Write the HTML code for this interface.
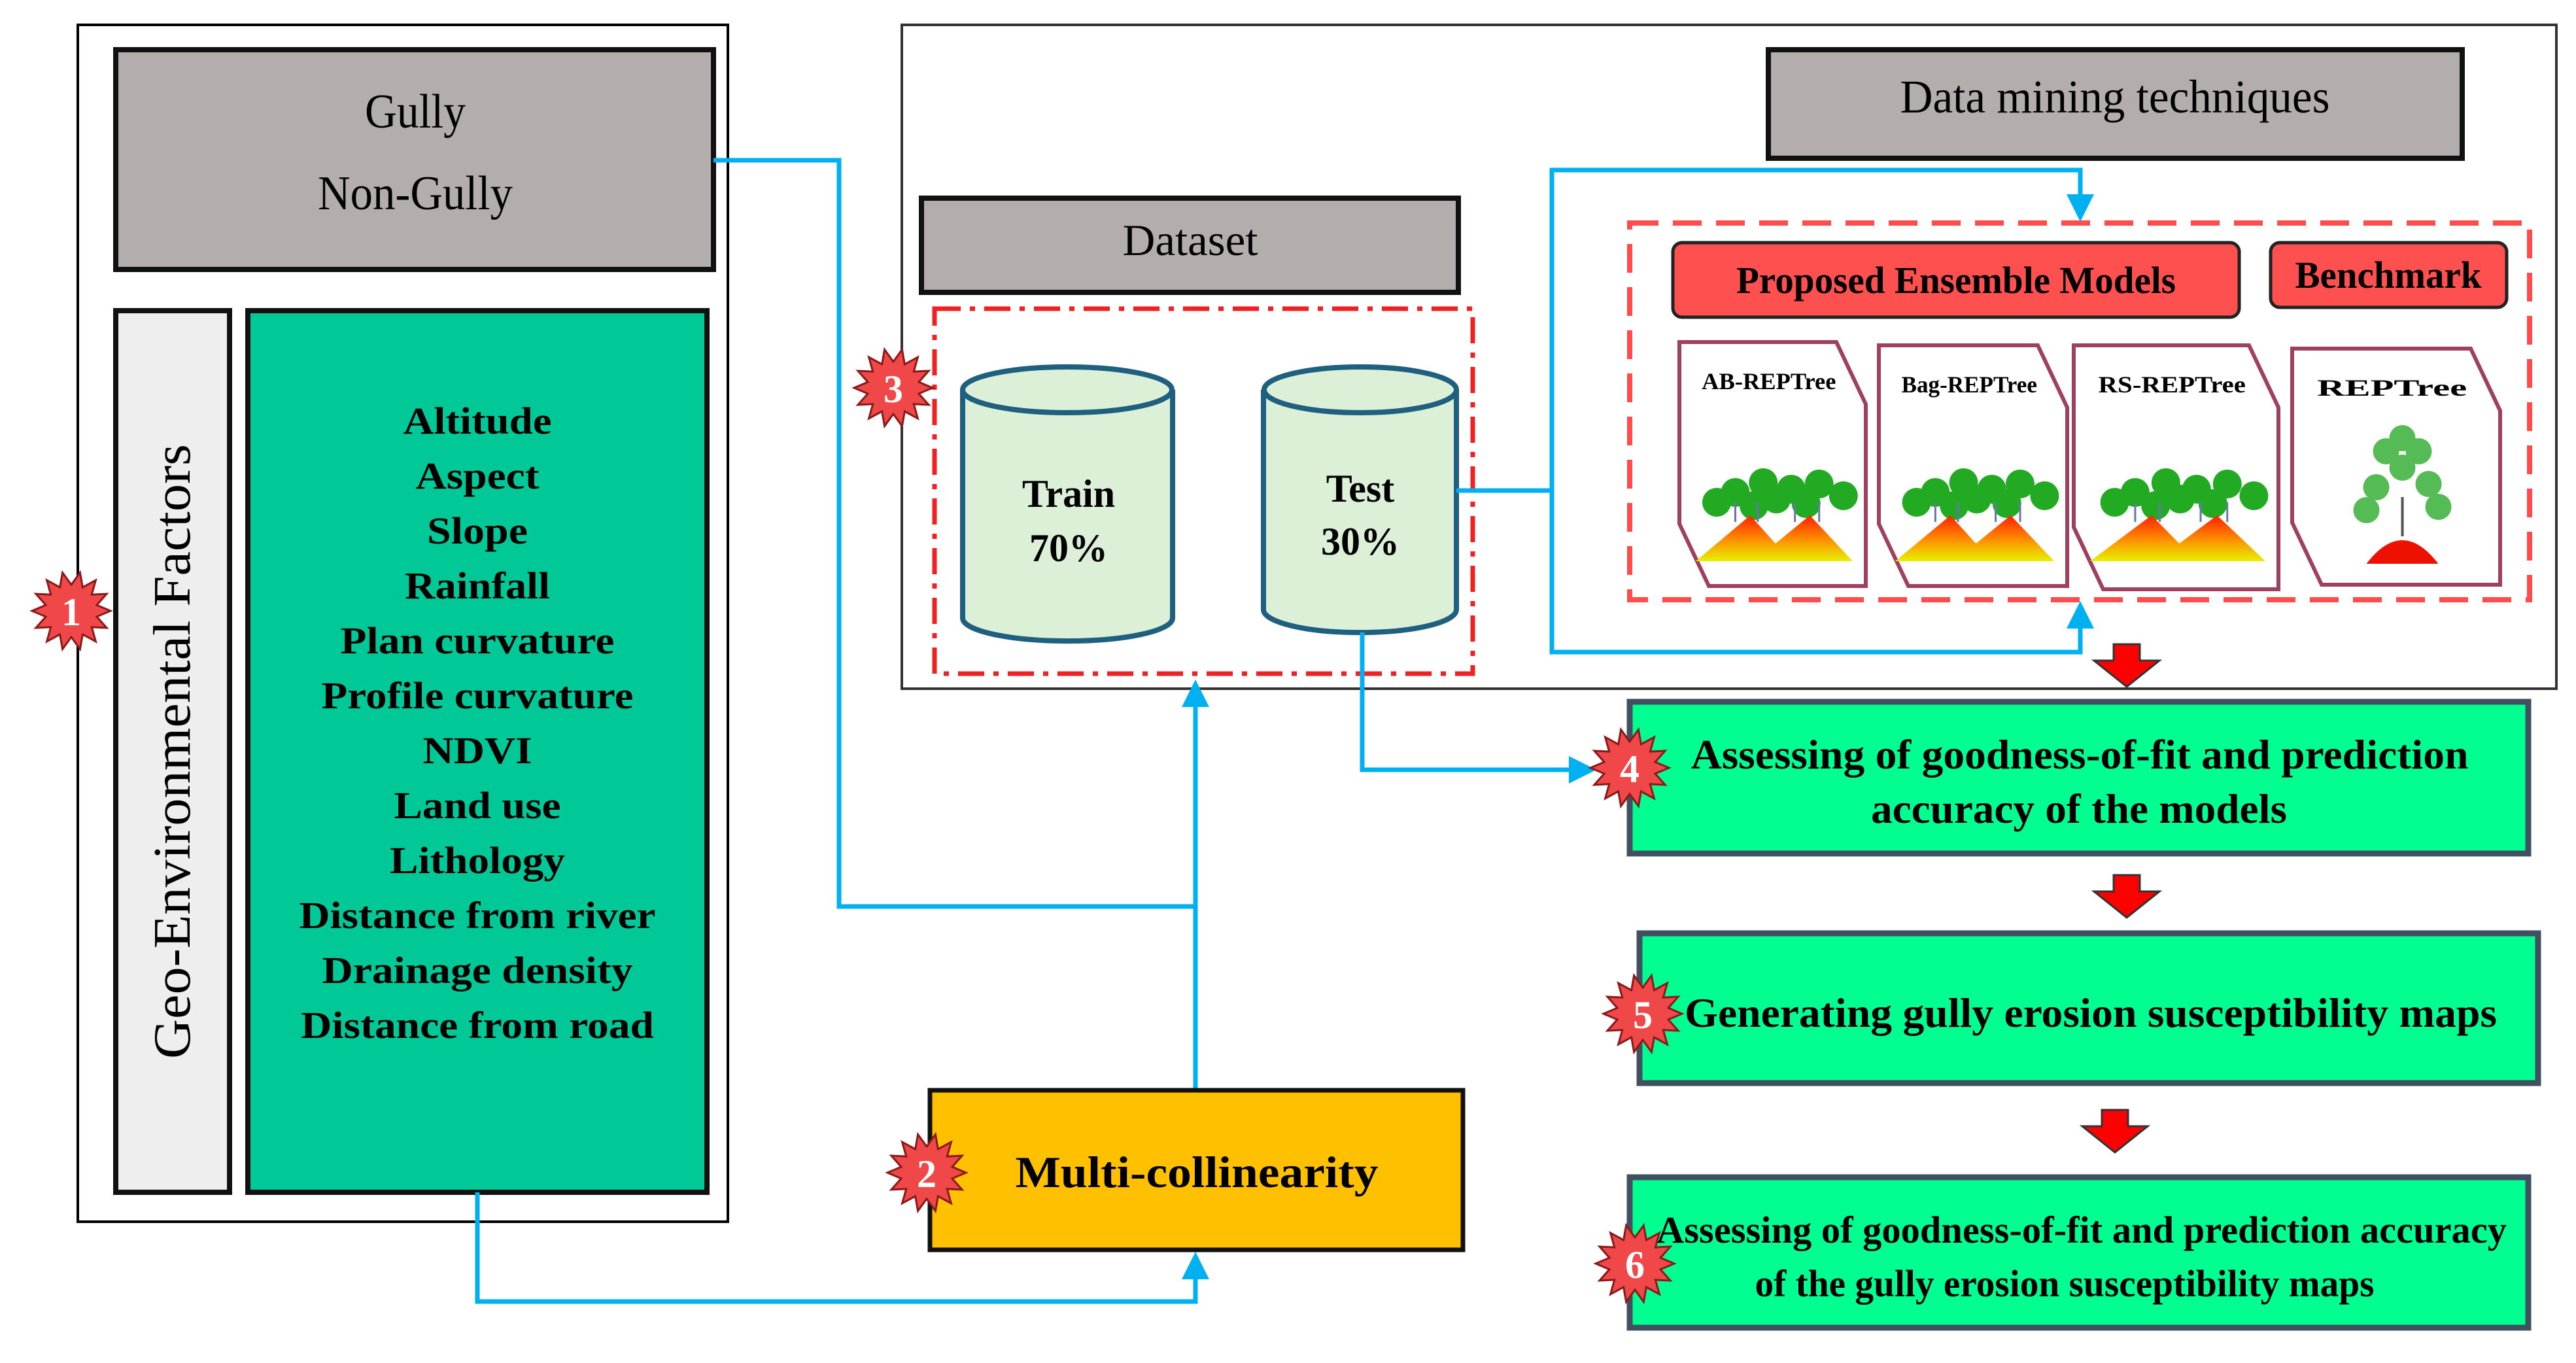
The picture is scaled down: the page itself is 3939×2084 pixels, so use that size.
<!DOCTYPE html>
<html><head><meta charset="utf-8"><style>
html,body{margin:0;padding:0;background:#fff;}
svg{display:block;}
text{font-family:"Liberation Serif",serif;}
</style></head><body>
<svg id="s" width="3939" height="2084" viewBox="0 0 3939 2084" xmlns="http://www.w3.org/2000/svg">
<defs>
<marker id="ab" markerWidth="6" markerHeight="6" refX="3" refY="3" orient="auto" markerUnits="strokeWidth"><path d="M0,0 L6,3 L0,6 z" fill="#00b0f0"/></marker>
<linearGradient id="mt" x1="0" y1="0" x2="0" y2="1"><stop offset="0" stop-color="#ff2000"/><stop offset="0.5" stop-color="#ff8800"/><stop offset="1" stop-color="#e8f000"/></linearGradient>
</defs>
<rect x="119" y="38" width="994" height="1830" fill="#fff" stroke="#000" stroke-width="4"/>
<rect x="177" y="76" width="914" height="336" fill="#b3aeac" stroke="#111" stroke-width="8"/>
<text x="635" y="195" font-size="74" text-anchor="middle" textLength="154" lengthAdjust="spacingAndGlyphs">Gully</text>
<text x="635" y="320" font-size="74" text-anchor="middle" textLength="298" lengthAdjust="spacingAndGlyphs">Non-Gully</text>
<rect x="177" y="475" width="174" height="1348" fill="#eeeeee" stroke="#111" stroke-width="8"/>
<text transform="translate(290,1149) rotate(-90)" font-size="80" text-anchor="middle" textLength="940" lengthAdjust="spacingAndGlyphs">Geo-Environmental Factors</text>
<rect x="379" y="475" width="702" height="1348" fill="#00c896" stroke="#111" stroke-width="8"/>
<g font-size="58" font-weight="bold" text-anchor="middle">
<text x="730" y="663" textLength="227" lengthAdjust="spacingAndGlyphs">Altitude</text>
<text x="730" y="747" textLength="189" lengthAdjust="spacingAndGlyphs">Aspect</text>
<text x="730" y="831" textLength="154" lengthAdjust="spacingAndGlyphs">Slope</text>
<text x="730" y="915" textLength="222" lengthAdjust="spacingAndGlyphs">Rainfall</text>
<text x="730" y="999" textLength="419" lengthAdjust="spacingAndGlyphs">Plan curvature</text>
<text x="730" y="1083" textLength="477" lengthAdjust="spacingAndGlyphs">Profile curvature</text>
<text x="730" y="1167" textLength="167" lengthAdjust="spacingAndGlyphs">NDVI</text>
<text x="730" y="1251" textLength="255" lengthAdjust="spacingAndGlyphs">Land use</text>
<text x="730" y="1335" textLength="268" lengthAdjust="spacingAndGlyphs">Lithology</text>
<text x="730" y="1419" textLength="545" lengthAdjust="spacingAndGlyphs">Distance from river</text>
<text x="730" y="1503" textLength="475" lengthAdjust="spacingAndGlyphs">Drainage density</text>
<text x="730" y="1587" textLength="540" lengthAdjust="spacingAndGlyphs">Distance from road</text>
</g>
<rect x="1379" y="38" width="2530" height="1015" fill="#fff" stroke="#333" stroke-width="4"/>
<rect x="2704" y="76" width="1061" height="166" fill="#b3aeac" stroke="#111" stroke-width="8"/>
<text x="3234" y="172" font-size="72" text-anchor="middle" textLength="657" lengthAdjust="spacingAndGlyphs">Data mining techniques</text>
<rect x="1409" y="303" width="821" height="144" fill="#b3aeac" stroke="#111" stroke-width="8"/>
<text x="1820" y="390" font-size="68" text-anchor="middle" textLength="207" lengthAdjust="spacingAndGlyphs">Dataset</text>
<rect x="1429" y="472" width="823" height="558" fill="none" stroke="#ee2222" stroke-width="7" stroke-dasharray="40,14,8,14"/>
<g stroke="#1f5f7f" stroke-width="8" fill="#dcf0d8">
<path d="M1472,596 L1472,945 A160,35 0 0 0 1793,945 L1793,596"/>
<ellipse cx="1632" cy="596" rx="160" ry="35"/>
<path d="M1932,596 L1932,932 A147,35 0 0 0 2227,932 L2227,596"/>
<ellipse cx="2080" cy="596" rx="147" ry="35"/>
</g>
<g font-size="60" font-weight="bold" text-anchor="middle">
<text x="1634" y="775">Train</text><text x="1634" y="858">70%</text>
<text x="2080" y="767">Test</text><text x="2080" y="848">30%</text>
</g>
<rect x="2492" y="341" width="1376" height="576" fill="none" stroke="#ff4d4d" stroke-width="8" stroke-dasharray="44,22"/>
<rect x="2558" y="371" width="866" height="114" rx="14" fill="#ff5050" stroke="#222" stroke-width="5"/>
<text x="2991" y="448" font-size="58" font-weight="bold" text-anchor="middle" textLength="672" lengthAdjust="spacingAndGlyphs">Proposed Ensemble Models</text>
<rect x="3472" y="371" width="361" height="99" rx="14" fill="#ff5050" stroke="#222" stroke-width="5"/>
<text x="3652" y="440" font-size="58" font-weight="bold" text-anchor="middle" textLength="285" lengthAdjust="spacingAndGlyphs">Benchmark</text>
<g id="cards"></g>
<g stroke="#00b0f0" stroke-width="7" fill="none">
<polyline points="1091,245 1283,245 1283,1386 1828,1386"/>
<line x1="1828" y1="1667" x2="1828" y2="1060" marker-end="url(#ab)"/>
<polyline points="730,1823 730,1990 1828,1990 1828,1935" marker-end="url(#ab)"/>
<polyline points="2227,750 2373,750 2373,260 3181,260 3181,318" marker-end="url(#ab)"/>
<polyline points="2373,750 2373,997 3181,997 3181,940" marker-end="url(#ab)"/>
<polyline points="2083,967 2083,1177 2420,1177" marker-end="url(#ab)"/>
</g>
<rect x="1422" y="1667" width="815" height="244" fill="#ffc000" stroke="#111" stroke-width="7"/>
<text x="1830" y="1815" font-size="68" font-weight="bold" text-anchor="middle" textLength="555" lengthAdjust="spacingAndGlyphs">Multi-collinearity</text>
<g fill="#00ff90" stroke="#405060" stroke-width="9">
<rect x="2492" y="1073" width="1374" height="232"/>
<rect x="2507" y="1427" width="1374" height="229"/>
<rect x="2492" y="1800" width="1374" height="230"/>
</g>
<g font-size="64" font-weight="bold" text-anchor="middle">
<text x="3180" y="1175" textLength="1189" lengthAdjust="spacingAndGlyphs">Assessing of goodness-of-fit and prediction</text>
<text x="3179" y="1258" textLength="636" lengthAdjust="spacingAndGlyphs">accuracy of the models</text>
<text x="3197" y="1570" textLength="1242" lengthAdjust="spacingAndGlyphs">Generating gully erosion susceptibility maps</text>
<text x="3183" y="1900" font-size="58" textLength="1300" lengthAdjust="spacingAndGlyphs">Assessing of goodness-of-fit and prediction accuracy</text>
<text x="3157" y="1982" font-size="58" textLength="947" lengthAdjust="spacingAndGlyphs">of the gully erosion susceptibility maps</text>
</g>
<g fill="#ff0000" stroke="#333" stroke-width="3">
<polygon points="3232,985 3272,985 3272,1010 3302,1010 3252,1050 3202,1010 3232,1010"/>
<polygon points="3232,1338 3272,1338 3272,1363 3302,1363 3252,1403 3202,1363 3232,1363"/>
<polygon points="3214,1697 3254,1697 3254,1722 3284,1722 3234,1762 3184,1722 3214,1722"/>
</g>
<g id="stars"></g>
</svg>
<script>
var NS="http://www.w3.org/2000/svg";
function el(t,a,p){var e=document.createElementNS(NS,t);for(var k in a)e.setAttribute(k,a[k]);p.appendChild(e);return e;}
var S=document.getElementById("stars");
[[109,934,"1"],[1417,1793,"2"],[1366,593,"3"],[2492,1174,"4"],[2512,1550,"5"],[2500,1932,"6"]].forEach(function(s){
 var pts=[],n=14;for(var i=0;i<2*n;i++){var r=i%2?40:60,a=Math.PI*i/n;pts.push((s[0]+r*Math.cos(a)).toFixed(1)+","+(s[1]+r*Math.sin(a)).toFixed(1));}
 el("polygon",{points:pts.join(" "),fill:"#f04848",stroke:"#8a1a1a","stroke-width":3},S);
 var t=el("text",{x:s[0],y:s[1]+22,"font-size":60,"font-weight":"bold","text-anchor":"middle",fill:"#fff"},S);t.textContent=s[2];
});
var C=document.getElementById("cards");
[[2568,523,2853,896,"AB-REPTree",1],[2873,528,3161,896,"Bag-REPTree",1],[3171,528,3484,901,"RS-REPTree",1],[3505,533,3823,894,"REPTree",0]].forEach(function(c){
 var x1=c[0],y1=c[1],x2=c[2],y2=c[3],w=x2-x1,h=y2-y1;
 el("polygon",{points:[x1,y1,x2-45,y1,x2,y1+95,x2,y2,x1+45,y2,x1,y2-95].join(" "),fill:"#fff",stroke:"#a04060","stroke-width":6},C);
 var t=el("text",{x:x1+w*0.48,y:y1+72,"font-size":36,"font-weight":"bold","text-anchor":"middle",textLength:w*0.72,lengthAdjust:"spacingAndGlyphs"},C);t.textContent=c[4];
 if(c[5]){
  var by=858;
  [[0.3,-105],[0.45,-120],[0.6,-110],[0.75,-118],[0.88,-100],[0.2,-90],[0.4,-85],[0.68,-88],[0.52,-95]].forEach(function(g){el("circle",{cx:x1+w*g[0],cy:by+g[1],r:22,fill:"#22aa22"},C);});
  [0.3,0.42,0.62,0.75].forEach(function(f){el("line",{x1:x1+w*f,y1:by-90,x2:x1+w*f,y2:by-60,stroke:"#6677aa","stroke-width":3},C);});
  el("polygon",{points:[x1+25,by,x1+w*0.38,by-70,x1+w*0.6,by].join(" "),fill:"url(#mt)"},C);
  el("polygon",{points:[x1+w*0.4,by,x1+w*0.7,by-70,x1+w-20,by].join(" "),fill:"url(#mt)"},C);
 } else {
  var cx=x1+w*0.53;
  el("path",{d:"M"+(cx-55)+",862 Q"+cx+",790 "+(cx+55)+",862 Z",fill:"#ee1100"},C);
  el("line",{x1:cx,y1:820,x2:cx,y2:760,stroke:"#555","stroke-width":4},C);
  [[-40,0],[0,-30],[40,-5],[-25,-55],[25,-55],[-55,35],[55,30],[0,-75]].forEach(function(g){el("circle",{cx:cx+g[0],cy:745+g[1],r:20,fill:"#55bb55"},C);});
 }
});
</script>
</body></html>
